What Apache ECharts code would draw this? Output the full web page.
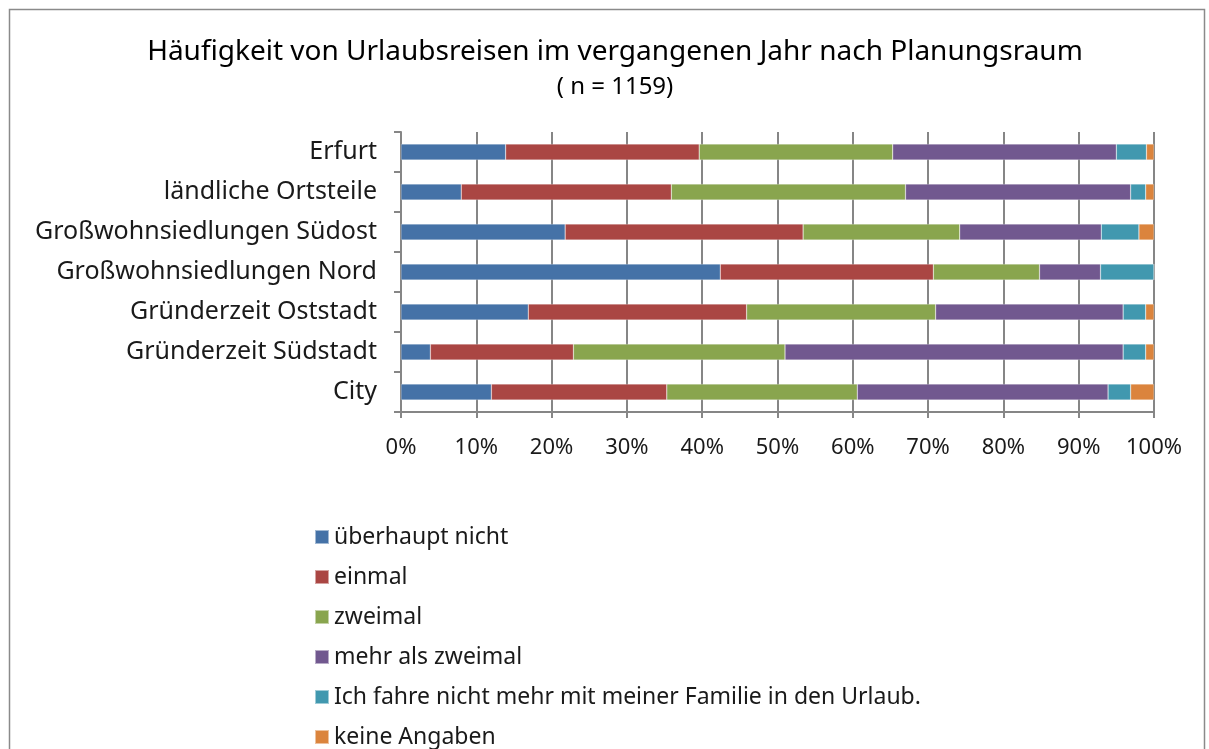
<!DOCTYPE html>
<html>
<head>
<meta charset="utf-8">
<script src="https://cdn.jsdelivr.net/npm/echarts@6/dist/echarts.min.js"></script>
<style>
  html, body { margin: 0; padding: 0; background: #fff; }
  #chart { width: 1209px; height: 749px; }
</style>
</head>
<body>
<div id="chart"></div>
<script>
// Planungsräume, von oben nach unten
var raeume = ['Erfurt', 'ländliche Ortsteile', 'Großwohnsiedlungen Südost', 'Großwohnsiedlungen Nord',
  'Gründerzeit Oststadt', 'Gründerzeit Südstadt', 'City'];

// Anteile in Prozent je Antwort
var ueberhauptNicht = [13.9, 8.0, 21.8, 42.4, 16.9, 3.9, 12.0];
var einmal          = [25.7, 27.9, 31.6, 28.3, 29.0, 19.0, 23.3];
var zweimal         = [25.7, 31.1, 20.8, 14.1, 25.1, 28.1, 25.3];
var mehrAlsZweimal  = [29.7, 29.9, 18.8, 8.1, 24.9, 44.9, 33.3];
var nichtMehr       = [4.0, 2.0, 5.0, 7.1, 3.0, 3.0, 3.0];
var keineAngaben    = [1.0, 1.1, 2.0, 0.0, 1.1, 1.1, 3.1];

var antworten = ['überhaupt nicht', 'einmal', 'zweimal', 'mehr als zweimal',
  'Ich fahre nicht mehr mit meiner Familie in den Urlaub.', 'keine Angaben'];
var farben = ['#4572A7', '#AA4643', '#89A54E', '#71588F', '#4198AF', '#DB843D'];
var werte = [ueberhauptNicht, einmal, zweimal, mehrAlsZweimal, nichtMehr, keineAngaben];

var schrift = '"Noto Sans", sans-serif';

var chart = echarts.init(document.getElementById('chart'));

var reihen = antworten.map(function (name, i) {
  return {
    name: name,
    type: 'bar',
    stack: 'gesamt',
    barWidth: 16,
    data: werte[i],
    itemStyle: { color: farben[i], borderColor: 'rgba(255,255,255,0.5)', borderWidth: 0.5 }
  };
});

chart.setOption({
  animation: false,
  color: farben,
  title: {
    text: 'Häufigkeit von Urlaubsreisen im vergangenen Jahr nach Planungsraum',
    subtext: '( n = 1159)',
    left: 610,
    top: 33,
    textAlign: 'center',
    itemGap: 9,
    textStyle: { fontFamily: schrift, fontSize: 28, fontWeight: 'normal', color: '#000' },
    subtextStyle: { fontFamily: schrift, fontSize: 24, color: '#000' }
  },
  graphic: [{
    type: 'rect',
    shape: { x: 9.5, y: 9.5, width: 1195, height: 760 },
    style: { fill: 'none', stroke: '#8a8a8a', lineWidth: 1.5 },
    silent: true
  }],
  legend: {
    orient: 'vertical',
    left: 314,
    top: 525,
    height: 240,
    padding: 0,
    itemWidth: 14,
    itemHeight: 14,
    itemGap: 16,
    icon: 'rect',
    data: antworten,
    textStyle: { fontFamily: schrift, fontSize: 23, lineHeight: 24, color: '#1a1a1a' }
  },
  grid: { left: 401, right: 55, top: 132, bottom: 337 },
  xAxis: {
    type: 'value',
    min: 0,
    max: 100,
    interval: 10,
    axisLine: { show: true, lineStyle: { color: '#868686', width: 2 } },
    axisTick: { show: true, length: 6, lineStyle: { color: '#868686', width: 2 } },
    axisLabel: { formatter: '{value}%', margin: 25, fontFamily: schrift, fontSize: 22, color: '#1a1a1a' },
    splitLine: { show: true, lineStyle: { color: '#868686', width: 2 } }
  },
  yAxis: {
    type: 'category',
    inverse: true,
    data: raeume,
    axisLine: { show: true, lineStyle: { color: '#868686', width: 2 } },
    axisTick: { show: true, length: 7, lineStyle: { color: '#868686', width: 2 } },
    axisLabel: { margin: 24, fontFamily: schrift, fontSize: 25, color: '#1a1a1a' }
  },
  series: reihen
});
</script>
</body>
</html>
